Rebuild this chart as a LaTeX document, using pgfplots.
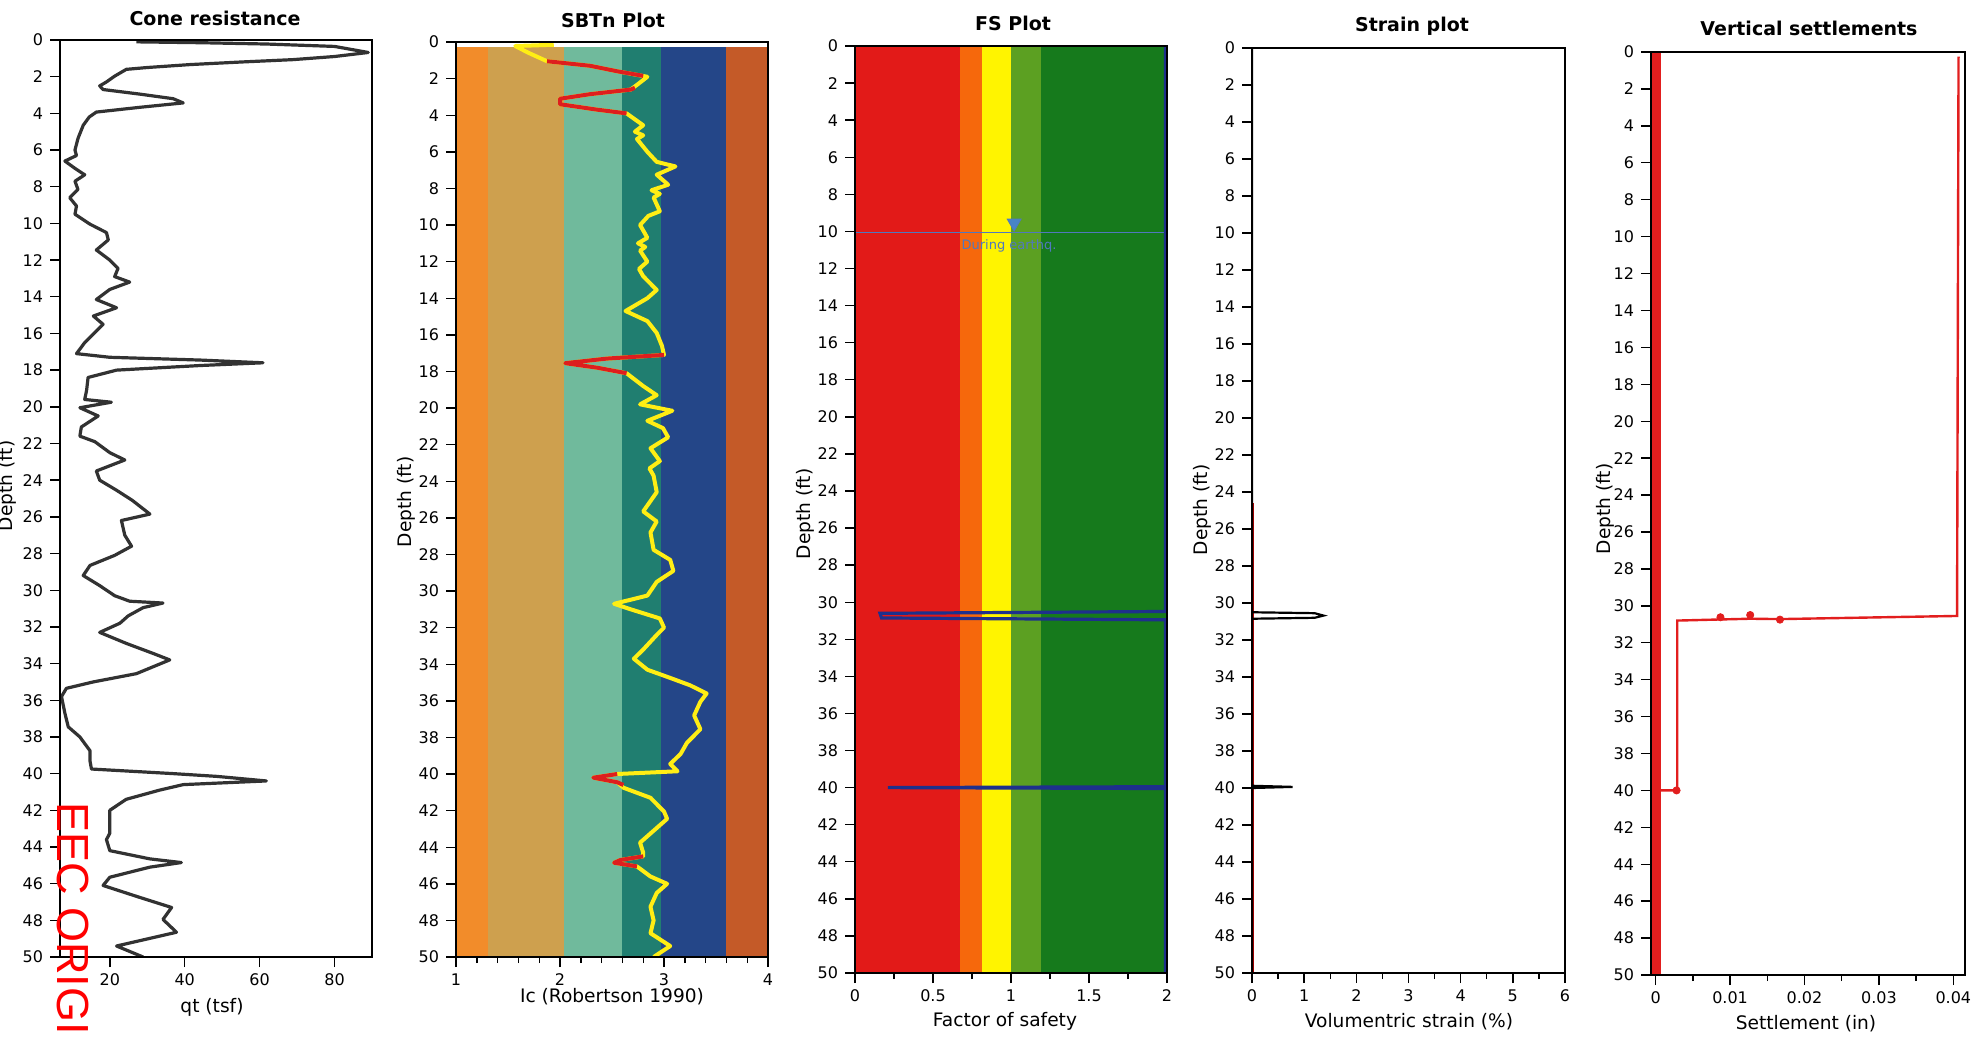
\documentclass[border=0pt]{standalone}
\usepackage{pgfplots}
\pgfplotsset{compat=1.18}
\usepackage{fontspec}
\setmainfont{DejaVu Sans}
\newfontfamily\stampfont{Liberation Sans}
\definecolor{conecol}{RGB}{50,50,50}
\definecolor{sbtA}{RGB}{242,140,42}
\definecolor{sbtB}{RGB}{206,160,78}
\definecolor{sbtC}{RGB}{112,186,156}
\definecolor{sbtD}{RGB}{32,126,112}
\definecolor{sbtE}{RGB}{36,70,136}
\definecolor{sbtF}{RGB}{196,90,40}
\definecolor{icyellow}{RGB}{255,238,20}
\definecolor{icred}{RGB}{222,30,30}
\definecolor{fsA}{RGB}{226,26,24}
\definecolor{fsB}{RGB}{246,104,12}
\definecolor{fsC}{RGB}{255,244,0}
\definecolor{fsD}{RGB}{92,160,34}
\definecolor{fsE}{RGB}{22,122,28}
\definecolor{fsline}{RGB}{30,48,140}
\definecolor{gwt}{RGB}{80,120,190}
\definecolor{setred}{RGB}{226,30,30}

\pgfplotsset{
  depth/.style={
    scale only axis, anchor=north west,
    y dir=reverse, ymin=0, ymax=50, ytick={0,2,...,50},
    tick pos=left, tick align=outside,
    major tick length=5pt, minor tick length=3pt,
    axis line style={line width=0.9pt},
    tick style={black, line width=0.7pt},
    ticklabel style={font=\fontsize{8}{9}\selectfont},
    /pgf/number format/assume math mode=true,
    axis on top,
  }
}
\newcommand{\ttl}{\bfseries\fontsize{9.5}{11}\selectfont}
\newcommand{\lbl}{\fontsize{9.3}{11}\selectfont}

\begin{document}
\begin{tikzpicture}
\useasboundingbox (0pt,0pt) rectangle (993pt,-518.5pt);

% ---------- Panel 1: Cone resistance ----------
\begin{axis}[depth, at={(30pt,-20pt)}, width=156pt, height=458.5pt,
  xmin=6.7, xmax=90, xtick={20,40,60,80}]
\addplot[conecol, line width=1.6pt, line join=round] coordinates {
(27.1,0.1)(45,0.15)(62,0.22)(80,0.35)(89,0.68)(80,0.9)(68.9,1.07)(55,1.2)(41.4,1.34)(30,1.5)(24.4,1.6)(21.3,1.97)(19,2.3)(17.3,2.5)(18.2,2.7)(28,2.95)(36.9,3.2)(39.6,3.43)(28,3.67)(16.4,3.93)(14.5,4.2)(12.9,4.65)(11.5,5.37)(10.7,6)(11.1,6.3)(8,6.6)(10.7,7)(13.3,7.35)(10.7,7.7)(11.5,8.15)(9.3,8.6)(11.1,9.05)(10.7,9.5)(14.7,10.04)(19.1,10.5)(19.6,10.9)(16.4,11.45)(20,12)(22.2,12.45)(21.3,12.9)(25.3,13.2)(20,13.6)(16.4,14.15)(21.8,14.6)(15.6,15.05)(18.2,15.5)(16,15.95)(13.3,16.5)(11.1,17.1)(20,17.3)(44,17.45)(60.9,17.6)(44,17.75)(21.8,18)(14.2,18.4)(13.8,19.1)(13.3,19.6)(20.4,19.75)(12,20.05)(16.9,20.5)(12.4,21.1)(12,21.6)(16,21.9)(20,22.5)(24,22.9)(16.4,23.5)(17.3,24)(21.8,24.55)(26,25.1)(30.7,25.85)(23.1,26.2)(24,27)(25.8,27.6)(21.3,28.1)(14.7,28.65)(12.9,29.2)(17.3,29.75)(21.3,30.3)(25.3,30.6)(34.2,30.7)(28.9,30.95)(24.9,31.4)(22.7,31.8)(17.3,32.3)(24.4,32.9)(31.6,33.45)(36,33.8)(27.1,34.55)(15.6,35)(8.4,35.35)(7.1,35.8)(8,36.7)(8.9,37.45)(12,38)(14.7,38.75)(14.7,39.3)(15.1,39.75)(36.9,40)(48.5,40.15)(61.8,40.4)(39.6,40.6)(33.3,40.9)(24.4,41.4)(20,42)(20,43.25)(19.1,43.6)(20,44.2)(30.7,44.65)(39.1,44.85)(30.7,45.1)(20,45.65)(18.2,46.1)(28,46.75)(36.5,47.3)(34.2,47.95)(37.8,48.65)(21.8,49.4)(28.9,50)};
\end{axis}
\node[font=\ttl] at (107.5pt,-9pt) {Cone resistance};
\node[font=\lbl] at (106pt,-503.5pt) {qt (tsf)};
\node[font=\lbl, rotate=90, anchor=base] at (6pt,-243pt) {Depth (ft)};
\node[font=\stampfont\fontsize{22.5}{24}\selectfont, text=red, rotate=-90, anchor=base west, inner sep=0pt] at (28.5pt,-401pt) {EEC ORIGINAL};

% ---------- Panel 2: SBTn ----------
\begin{axis}[depth, at={(228pt,-21pt)}, width=156pt, height=457.5pt,
  xmin=1, xmax=4, xtick={1,2,3,4}, minor x tick num=4]
\addplot[draw=none, fill=sbtA] coordinates {(1,0.3)(1.31,0.3)(1.31,50)(1,50)} -- cycle;
\addplot[draw=none, fill=sbtB] coordinates {(1.31,0.3)(2.04,0.3)(2.04,50)(1.31,50)} -- cycle;
\addplot[draw=none, fill=sbtC] coordinates {(2.04,0.3)(2.6,0.3)(2.6,50)(2.04,50)} -- cycle;
\addplot[draw=none, fill=sbtD] coordinates {(2.6,0.3)(2.97,0.3)(2.97,50)(2.6,50)} -- cycle;
\addplot[draw=none, fill=sbtE] coordinates {(2.97,0.3)(3.6,0.3)(3.6,50)(2.97,50)} -- cycle;
\addplot[draw=none, fill=sbtF] coordinates {(3.6,0.3)(4,0.3)(4,50)(3.6,50)} -- cycle;
\addplot[icyellow, line width=2pt, line join=round] coordinates {
(1.94,0.15)(1.57,0.22)(1.7,0.6)(1.875,1.05)(2.29,1.3)(2.55,1.6)(2.84,1.9)(2.75,2.3)(2.68,2.6)(2.29,2.85)(2.0,3.1)(2.0,3.4)(2.36,3.7)(2.64,3.9)(2.8,4.55)(2.72,4.9)(2.8,5.1)(2.74,5.3)(2.84,6)(2.93,6.55)(3.11,6.8)(2.93,7.25)(3.04,7.8)(2.88,8.1)(2.96,8.3)(2.9,8.5)(2.96,9.25)(2.85,9.5)(2.77,10)(2.84,10.7)(2.75,11.0)(2.82,11.2)(2.77,11.4)(2.84,12)(2.76,12.4)(2.8,12.8)(2.93,13.55)(2.84,14)(2.63,14.7)(2.84,15.25)(2.93,15.9)(2.98,16.6)(3.0,17.1)(2.45,17.3)(2.05,17.55)(2.36,17.8)(2.64,18.1)(2.8,18.8)(2.93,19.3)(2.77,19.8)(3.08,20.15)(2.84,20.7)(2.99,21.1)(3.04,21.6)(2.87,22.2)(2.96,22.9)(2.86,23.3)(2.9,23.7)(2.93,24.6)(2.8,25.65)(2.93,26.2)(2.87,26.8)(2.9,27.75)(3.06,28.3)(3.09,28.9)(2.93,29.5)(2.84,30.25)(2.52,30.7)(2.68,31)(2.96,31.5)(3.0,32)(2.93,32.4)(2.8,33.2)(2.71,33.7)(2.84,34.3)(3.06,34.75)(3.25,35.15)(3.41,35.6)(3.35,36.05)(3.29,36.8)(3.35,37.55)(3.22,38.3)(3.16,38.9)(3.06,39.45)(3.13,39.85)(2.55,40)(2.32,40.2)(2.55,40.45)(2.61,40.75)(2.87,41.3)(3.0,42.05)(3.03,42.45)(2.9,43.1)(2.77,43.75)(2.8,44.3)(2.8,44.5)(2.58,44.7)(2.52,44.85)(2.74,45.05)(2.87,45.6)(3.03,46)(2.93,46.5)(2.87,47.25)(2.9,48)(2.87,48.7)(3.06,49.4)(2.9,50)};
\addplot[icred, line width=2pt, line join=round] coordinates {(1.875,1.05)(2.29,1.3)(2.55,1.6)(2.8,1.85)};
\addplot[icred, line width=2pt, line join=round] coordinates {(2.72,2.5)(2.68,2.6)(2.29,2.85)(2.0,3.1)(2.0,3.4)(2.36,3.7)(2.64,3.9)};
\addplot[icred, line width=2pt, line join=round] coordinates {(3.0,17.1)(2.45,17.3)(2.05,17.55)(2.36,17.8)(2.64,18.1)};
\addplot[icred, line width=2pt, line join=round] coordinates {(2.55,40)(2.32,40.2)(2.55,40.45)(2.61,40.6)};
\addplot[icred, line width=2pt, line join=round] coordinates {(2.8,44.5)(2.58,44.7)(2.52,44.85)(2.74,45.05)};
\end{axis}
\node[font=\ttl] at (306.5pt,-10pt) {SBTn Plot};
\node[font=\lbl] at (306pt,-498.5pt) {Ic (Robertson 1990)};
\node[font=\lbl, rotate=90, anchor=base] at (205.5pt,-251pt) {Depth (ft)};

% ---------- Panel 3: FS ----------
\begin{axis}[depth, at={(427.5pt,-23pt)}, width=156pt, height=463.5pt,
  xmin=0, xmax=2, xtick={0,0.5,1,1.5,2}, xticklabels={0,0.5,1,1.5,2}, minor x tick num=1]
\addplot[draw=none, fill=fsA] coordinates {(0,0)(0.673,0)(0.673,50)(0,50)} -- cycle;
\addplot[draw=none, fill=fsB] coordinates {(0.673,0)(0.815,0)(0.815,50)(0.673,50)} -- cycle;
\addplot[draw=none, fill=fsC] coordinates {(0.815,0)(1.0,0)(1.0,50)(0.815,50)} -- cycle;
\addplot[draw=none, fill=fsD] coordinates {(1.0,0)(1.19,0)(1.19,50)(1.0,50)} -- cycle;
\addplot[draw=none, fill=fsE] coordinates {(1.19,0)(2,0)(2,50)(1.19,50)} -- cycle;
\addplot[gwt, line width=0.8pt] coordinates {(0,10.05)(2,10.05)};
\addplot[only marks, mark=triangle*, mark size=4pt, mark options={rotate=180, fill=gwt!90!cyan, draw=gwt}] coordinates {(1.02,9.55)};
\addplot[fsline, line width=1.6pt] coordinates {
(1.99,0)(1.99,30.5)(0.16,30.6)(0.17,30.85)(1.99,30.95)(1.99,39.95)(0.21,40.0)(1.99,40.05)(1.99,50)};
\end{axis}
\node[font=\ttl] at (506.5pt,-11.5pt) {FS Plot};
\node[font=\fontsize{6.5}{8}\selectfont, text=gwt] at (504.5pt,-123pt) {During earthq.};
\node[font=\lbl] at (502.5pt,-510.5pt) {Factor of safety};
\node[font=\lbl, rotate=90, anchor=base] at (405pt,-257pt) {Depth (ft)};

% ---------- Panel 4: Strain ----------
\begin{axis}[depth, at={(626pt,-24pt)}, width=156.5pt, height=462.5pt,
  xmin=0, xmax=6, xtick={0,1,...,6}, minor x tick num=1]
\addplot[red!70!black, line width=0.5pt] coordinates {(0.03,24.6)(0.03,50)};
\addplot[black, line width=1.1pt] coordinates {
(0,0)(0,30.5)(1.2,30.55)(1.37,30.68)(1.2,30.8)(0,30.85)(0,39.88)(0.78,39.94)(0,40.0)(0,50)};
\end{axis}
\node[font=\ttl] at (706pt,-13pt) {Strain plot};
\node[font=\lbl] at (704.5pt,-511pt) {Volumentric strain (\%)};
\node[font=\lbl, rotate=90, anchor=base] at (603.5pt,-255pt) {Depth (ft)};

% ---------- Panel 5: Settlement ----------
\begin{axis}[depth, at={(825.5pt,-26pt)}, width=157pt, height=461.5pt,
  xmin=-0.00063, xmax=0.04157, xtick={0,0.01,0.02,0.03,0.04},
  xticklabels={0,0.01,0.02,0.03,0.04}, scaled x ticks=false, minor x tick num=1]
\addplot[draw=none, fill=setred] coordinates {(-0.00045,0)(0.00075,0)(0.00075,50)(-0.00045,50)} -- cycle;
\addplot[setred, line width=1.2pt] coordinates {
(0.0407,0.25)(0.0405,30.55)(0.0167,30.72)(0.0127,30.7)(0.0087,30.74)(0.0029,30.8)(0.0029,39.9)(0.0028,40.0)(0,40.0)};
\addplot[only marks, mark=*, mark size=1.8pt, setred] coordinates {(0.0087,30.62)(0.0127,30.5)(0.0167,30.75)(0.0028,40)};
\end{axis}
\node[font=\ttl] at (904.5pt,-14pt) {Vertical settlements};
\node[font=\lbl] at (903pt,-512pt) {Settlement (in)};
\node[font=\lbl, rotate=90, anchor=base] at (805pt,-254.5pt) {Depth (ft)};
\end{tikzpicture}
\end{document}
